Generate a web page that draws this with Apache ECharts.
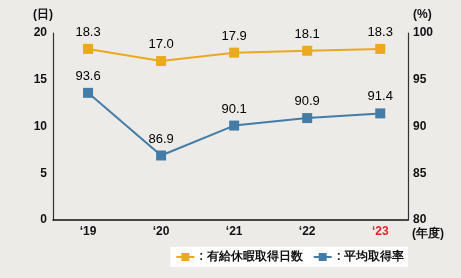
<!DOCTYPE html>
<html>
<head>
    <meta charset="utf-8">
    <title>ECharts</title>
    <script src="https://cdn.jsdelivr.net/npm/echarts@6/dist/echarts.min.js"></script>
</head>
<body style="margin:0;background:#ecebe7;">
<div id="main" style="width: 461px;height:278px;"></div>
<script type="text/javascript">
    // data
    var years = ['\u201819', '\u201820', '\u201821', '\u201822', '\u201823'];
    var daysName = '有給休暇取得日数';
    var rateName = '平均取得率';
    var days = [18.3, 17.0, 17.9, 18.1, 18.3];
    var rate = [93.6, 86.9, 90.1, 90.9, 91.4];

    var font = '"Liberation Sans", Arial, sans-serif';
    var orange = '#eaa91f';
    var blue = '#437da7';

    function pairs(arr) {
        return arr.map(function (v, i) { return [i, v]; });
    }

    var myChart = echarts.init(document.getElementById('main'));
    var option = {
        backgroundColor: '#ecebe7',
        textStyle: { fontFamily: font },
        grid: { left: 53, right: 53, top: 33, bottom: 58 },
        legend: {
            right: 53,
            bottom: 11,
            backgroundColor: '#fff',
            padding: [4, 4, 4, 5],
            itemWidth: 18,
            itemHeight: 10,
            itemGap: 10,
            formatter: ': {name}',
            textStyle: { fontFamily: font, fontSize: 12, color: '#111', fontWeight: 'bold' },
            data: [daysName, rateName]
        },
        xAxis: {
            type: 'value',
            min: -0.48,
            max: 4.38,
            splitLine: { show: false },
            axisTick: { show: false },
            axisLine: { lineStyle: { color: '#111', width: 1.5 } },
            axisLabel: {
                customValues: [0, 1, 2, 3, 4],
                margin: 6,
                fontSize: 12,
                fontWeight: 'bold',
                color: '#111',
                formatter: function (v) {
                    var i = Math.round(v);
                    return i === years.length - 1 ? '{red|' + years[i] + '}' : years[i];
                },
                rich: { red: { color: '#e8202a', fontSize: 12, fontWeight: 'bold' } }
            },
            name: '(年度)',
            nameLocation: 'end',
            nameGap: 4,
            nameTextStyle: { fontSize: 12, fontWeight: 'bold', color: '#111', verticalAlign: 'top', padding: [8, 0, 0, 0] }
        },
        yAxis: [{
            type: 'value',
            min: 0,
            max: 20,
            interval: 5,
            splitLine: { show: false },
            axisTick: { show: false },
            axisLine: { show: true, onZero: false, lineStyle: { color: '#333', width: 1.2 } },
            axisLabel: { margin: 6, fontSize: 12, fontWeight: 'bold', color: '#111' },
            name: '(日)',
            nameGap: 12,
            nameTextStyle: { fontSize: 12, fontWeight: 'bold', color: '#111', align: 'right' }
        }, {
            type: 'value',
            min: 80,
            max: 100,
            interval: 5,
            position: 'right',
            splitLine: { show: false },
            axisTick: { show: false },
            axisLine: { show: true, onZero: false, lineStyle: { color: '#333', width: 1.2 } },
            axisLabel: { margin: 5, fontSize: 12, fontWeight: 'bold', color: '#111' },
            name: '(%)',
            nameGap: 12,
            nameTextStyle: { fontSize: 12, fontWeight: 'bold', color: '#111', align: 'left', padding: [0, 0, 0, 5] }
        }],
        series: [{
            name: daysName,
            type: 'line',
            yAxisIndex: 0,
            data: pairs(days),
            symbol: 'rect',
            symbolSize: 10,
            color: orange,
            lineStyle: { width: 2 },
            label: {
                show: true,
                position: 'top',
                distance: 5,
                fontSize: 13,
                color: '#000',
                formatter: function (p) { return p.value[1].toFixed(1); }
            }
        }, {
            name: rateName,
            type: 'line',
            yAxisIndex: 1,
            data: pairs(rate),
            symbol: 'rect',
            symbolSize: 10,
            color: blue,
            lineStyle: { width: 2 },
            label: {
                show: true,
                position: 'top',
                distance: 5,
                fontSize: 13,
                color: '#000',
                formatter: function (p) { return p.value[1].toFixed(1); }
            }
        }]
    };
    myChart.setOption(option);
</script>
</body>
</html>
